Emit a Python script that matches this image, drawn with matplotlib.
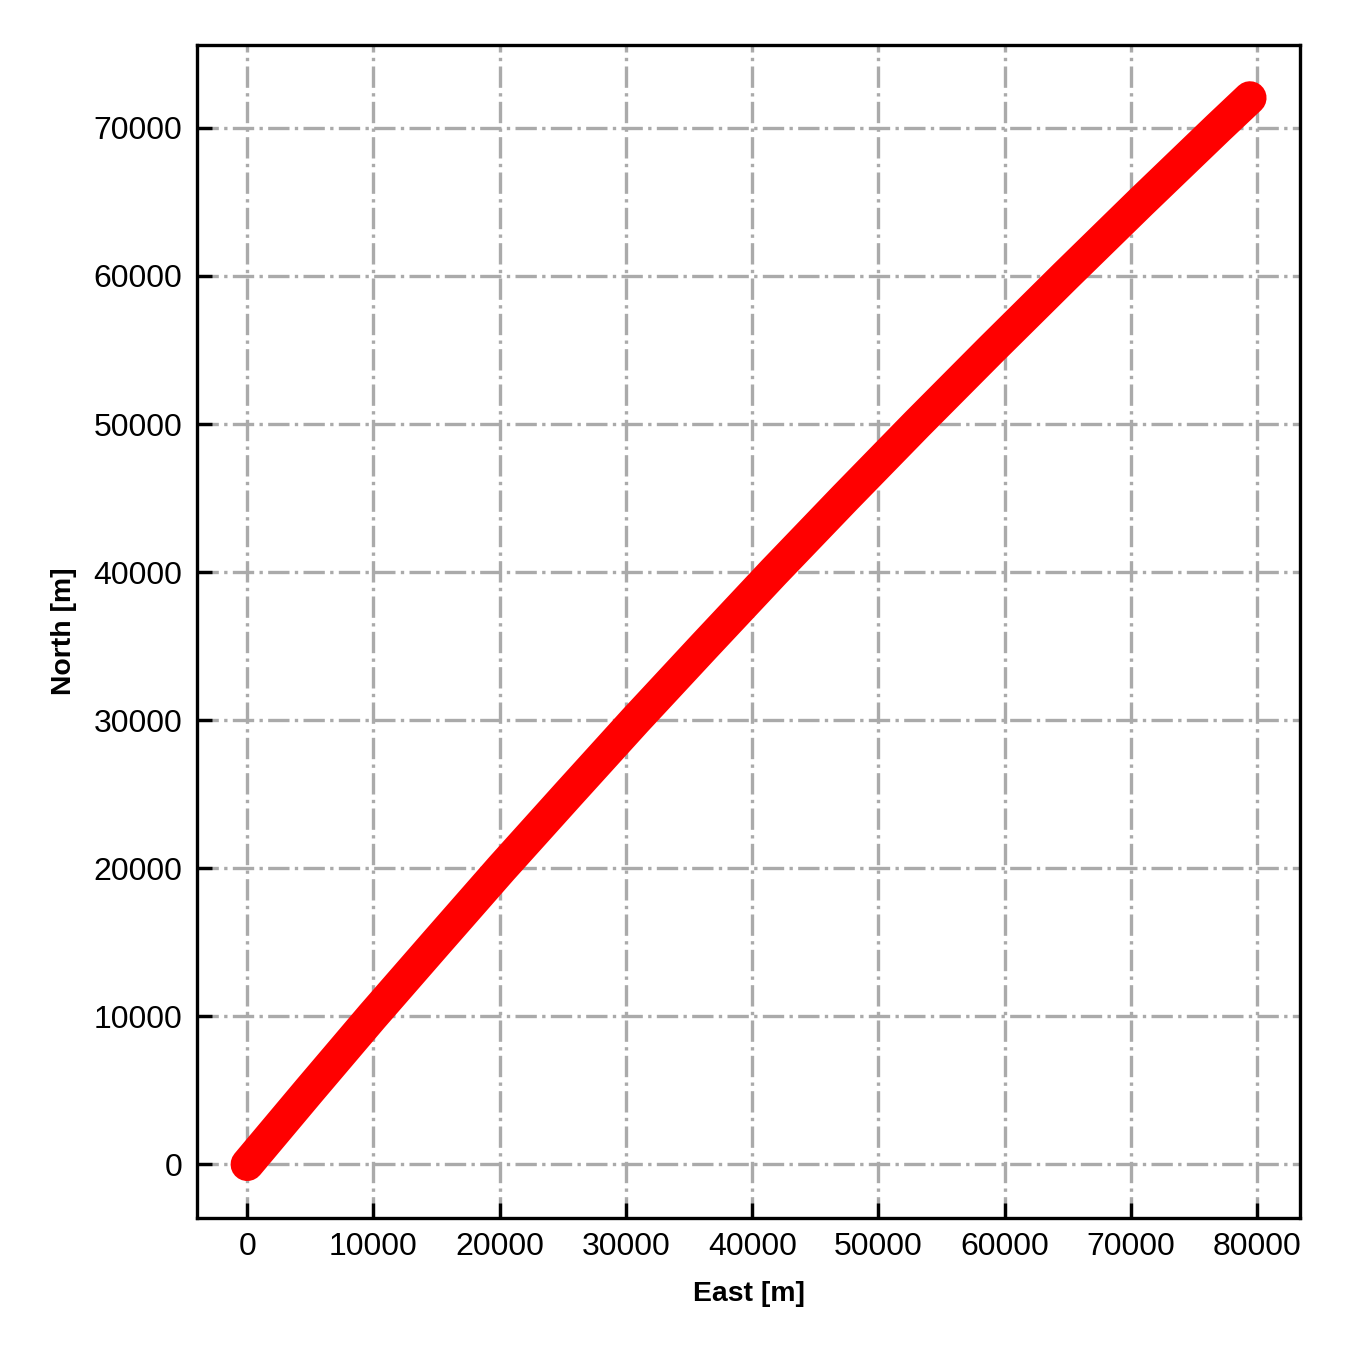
import numpy as np
import matplotlib.pyplot as plt

plt.rcParams['font.family'] = ['Liberation Sans', 'DejaVu Sans']

# trajectory [m]
east = [0, 4920, 9900, 15010, 20150, 25430, 30750, 36200, 41700, 47330,
        53050, 58880, 64800, 70800, 76900, 79420]
north = [0, 5000, 10000, 15000, 20000, 25000, 30000, 35000, 40000, 45000,
         50000, 55000, 60000, 65000, 70000, 72030]

fig = plt.figure(figsize=(4.5, 4.5), dpi=300)
ax = fig.add_axes([0.146, 0.098, 0.817, 0.869])

ax.plot(east, north, color='red', lw=8, solid_capstyle='round',
        solid_joinstyle='round', zorder=3)

ax.grid(True, ls='-.', color='#aaaaaa', lw=0.8, zorder=0)
ax.set_axisbelow(True)
ax.tick_params(direction='in', labelsize=7.7, width=0.8, length=3.5)
ax.set_xticks(np.arange(0, 80001, 10000))
ax.set_yticks(np.arange(0, 70001, 10000))
for s in ax.spines.values():
    s.set_linewidth(0.8)

ax.set_xlabel('East [m]', fontsize=6.8, fontweight='bold', labelpad=4.5)
ax.set_ylabel('North [m]', fontsize=6.8, fontweight='bold', labelpad=4)

fig.savefig('out.png', dpi=300)
